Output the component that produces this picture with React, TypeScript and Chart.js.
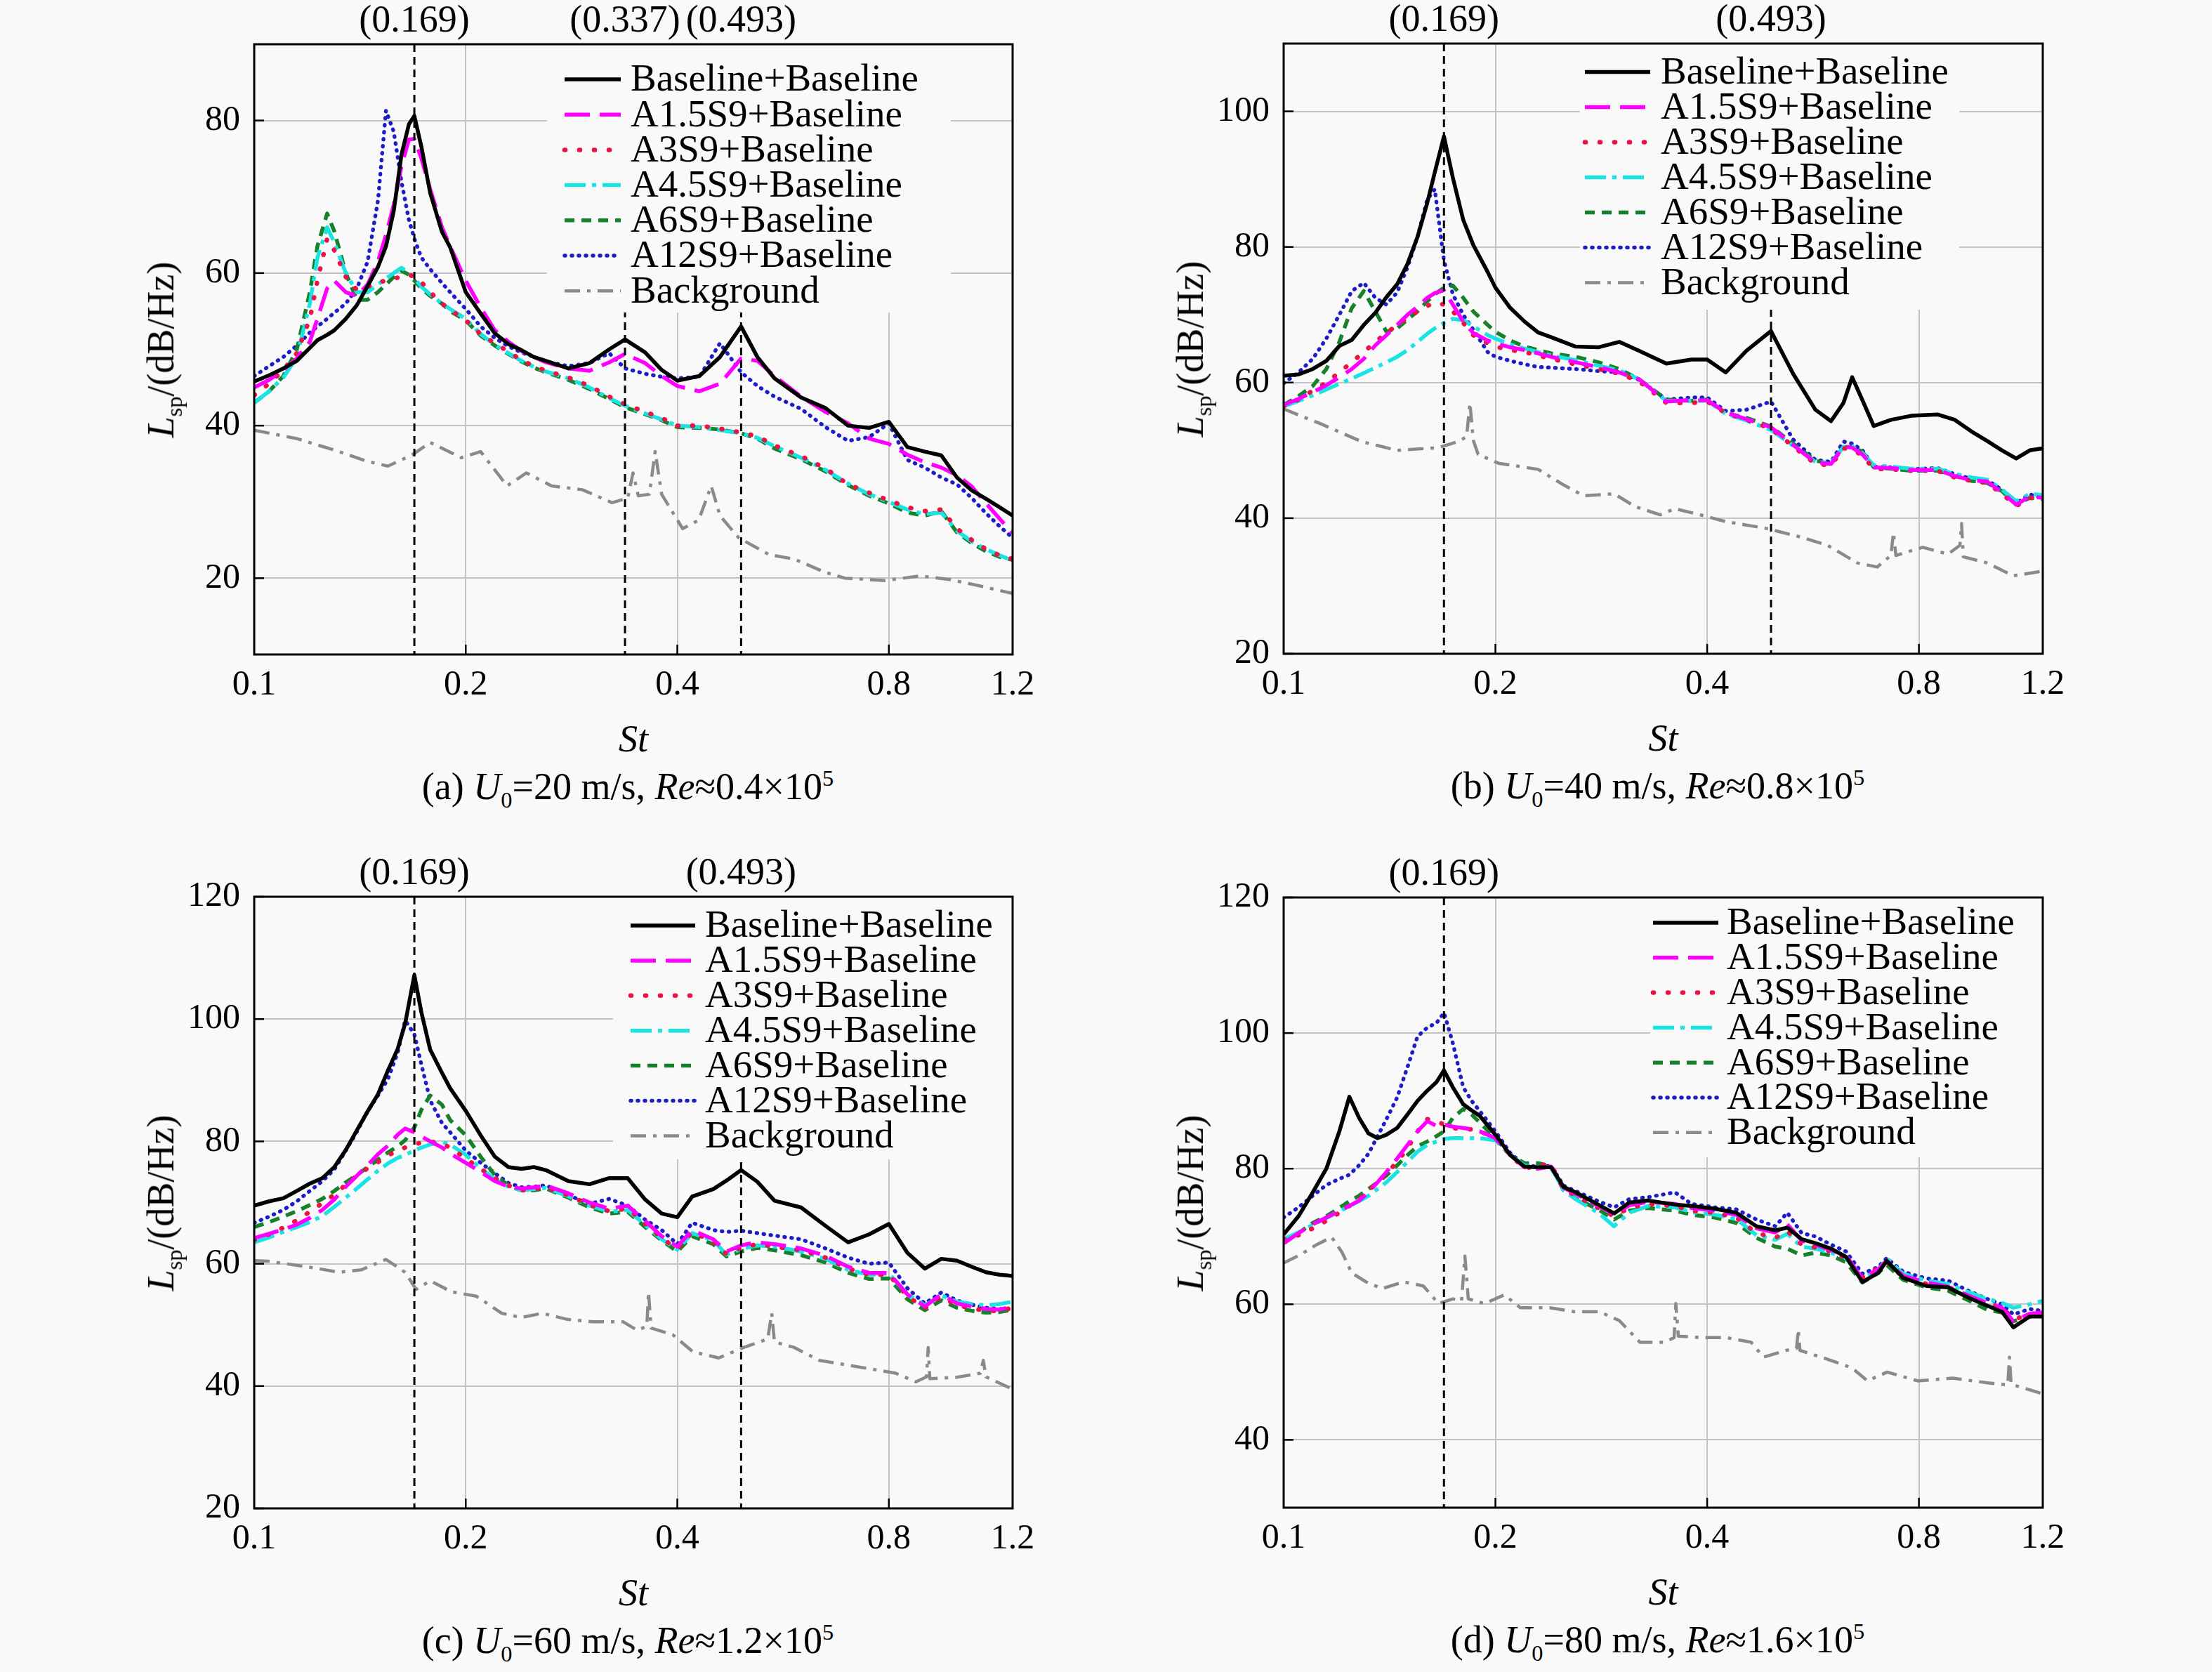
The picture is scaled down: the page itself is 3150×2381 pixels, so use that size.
import { useEffect, useRef } from 'react';
import { Chart, registerables } from 'chart.js';

Chart.register(...registerables);

const LABELS = [
  'Baseline+Baseline',
  'A1.5S9+Baseline',
  'A3S9+Baseline',
  'A4.5S9+Baseline',
  'A6S9+Baseline',
  'A12S9+Baseline',
  'Background',
];
const X_TICKS = [0.1, 0.2, 0.4, 0.8, 1.2];

// (a) U0 = 20 m/s
const ST_A = [0.1, 0.105, 0.11, 0.115, 0.12, 0.123, 0.127, 0.13, 0.135, 0.14, 0.145, 0.15, 0.154, 0.158, 0.162, 0.166, 0.169, 0.173, 0.178, 0.185, 0.19, 0.2, 0.21, 0.22, 0.23, 0.24, 0.25, 0.26, 0.28, 0.3, 0.32, 0.337, 0.36, 0.38, 0.4, 0.43, 0.46, 0.493, 0.52, 0.55, 0.6, 0.65, 0.7, 0.75, 0.8, 0.85, 0.9, 0.95, 1.0, 1.05, 1.1, 1.15, 1.2];
const BASE_A = [45.8, 46.6, 47.5, 48.5, 50.2, 51.2, 51.9, 52.5, 54.0, 55.8, 58.3, 60.8, 63.5, 68.2, 75.5, 79.5, 80.6, 76.5, 70.5, 65.4, 63.4, 57.5, 54.7, 52.1, 50.7, 49.9, 49.0, 48.5, 47.5, 48.2, 50.0, 51.3, 49.6, 47.3, 45.9, 46.5, 49.0, 53.0, 49.0, 46.2, 43.7, 42.3, 40.0, 39.7, 40.5, 37.2, 36.6, 36.1, 33.2, 31.5, 30.4, 29.3, 28.2];
const A15_A = [45.0, 46.0, 47.3, 48.8, 51.0, 54.0, 58.0, 59.0, 57.5, 57.0, 58.5, 61.5, 65.0, 69.0, 74.0, 77.5, 77.6, 75.0, 71.0, 66.0, 63.5, 59.0, 55.5, 52.5, 51.0, 49.8, 49.0, 48.3, 47.5, 47.2, 48.3, 49.4, 48.2, 46.5, 45.2, 44.5, 45.5, 48.8, 48.5, 46.5, 43.8, 41.8, 40.3, 38.3, 37.6, 36.2, 35.2, 34.5, 33.5, 32.0, 29.8, 27.8, 25.9];
const A3_A = [44.0, 45.5, 47.3, 49.5, 54.0, 59.0, 64.5, 63.0, 59.5, 57.8, 58.2, 58.8, 59.0, 59.3, 59.5, 59.8, 59.5, 58.8, 57.5, 56.0, 55.2, 53.8, 52.0, 50.8, 49.7, 48.6, 47.8, 47.2, 46.3, 45.2, 43.8, 42.8, 41.8, 41.0, 40.0, 40.0, 39.6, 39.1, 38.6, 37.4, 36.0, 34.4, 32.3, 31.2, 30.2, 29.3, 28.8, 29.0, 26.5, 25.0, 23.8, 23.0, 22.5];
const A45_A = [43.0, 44.5, 46.3, 49.0, 56.0, 62.0, 66.0, 64.0, 60.0, 57.5, 57.5, 58.5, 59.3, 60.0, 60.7, 60.0, 59.3, 58.2, 57.2, 56.0, 55.3, 54.0, 52.0, 50.6, 49.5, 48.5, 47.7, 47.1, 46.2, 45.0, 43.6, 42.6, 41.6, 40.8, 40.0, 39.8, 39.4, 39.0, 38.4, 37.3, 35.8, 34.2, 32.4, 31.0, 30.0, 29.0, 28.4, 28.6, 26.2, 24.8, 23.8, 23.0, 22.3];
const A6_A = [43.0, 44.5, 46.5, 50.0, 57.5, 63.5, 67.8, 65.5, 60.0, 56.5, 56.5, 57.5, 58.5, 59.5, 60.3, 59.8, 59.0, 58.0, 57.0, 56.0, 55.0, 53.8, 51.8, 50.5, 49.4, 48.4, 47.6, 47.0, 46.0, 44.8, 43.5, 42.4, 41.5, 40.7, 39.8, 39.7, 39.5, 39.0, 38.3, 37.0, 35.6, 34.0, 32.2, 30.8, 29.8, 28.6, 28.2, 28.8, 26.0, 24.6, 23.5, 22.8, 22.4];
const A12_A = [46.5, 47.8, 49.0, 50.5, 52.2, 53.0, 54.0, 54.8, 56.0, 58.0, 61.5, 69.5, 81.3, 78.5, 72.0, 67.0, 64.5, 62.0, 60.5, 58.7, 57.5, 55.3, 53.0, 51.5, 50.4, 49.6, 49.0, 48.4, 47.8, 48.2, 49.5, 47.5, 46.8, 46.4, 46.2, 46.4, 50.8, 47.0, 45.2, 43.8, 42.2, 39.8, 38.0, 38.5, 40.3, 35.5, 34.5, 33.2, 32.3, 30.5, 28.5, 26.8, 25.3];
const BG_ST_A = [0.1, 0.115, 0.13, 0.145, 0.155, 0.168, 0.178, 0.197, 0.21, 0.229, 0.244, 0.265, 0.293, 0.323, 0.34, 0.346, 0.352, 0.365, 0.372, 0.38, 0.407, 0.429, 0.447, 0.46, 0.489, 0.54, 0.587, 0.648, 0.693, 0.79, 0.888, 0.98, 1.064, 1.2];
const BG_A = [39.4, 38.3, 36.8, 35.3, 34.7, 36.2, 37.8, 35.8, 36.6, 32.1, 33.8, 32.1, 31.6, 29.9, 30.5, 33.8, 30.8, 31.0, 36.6, 31.0, 26.5, 27.6, 32.1, 28.2, 25.3, 23.1, 22.5, 20.8, 20.0, 19.7, 20.3, 19.8, 19.1, 18.0];

// (b) U0 = 40 m/s
const ST_B = [0.1, 0.105, 0.11, 0.115, 0.12, 0.125, 0.13, 0.135, 0.14, 0.145, 0.15, 0.155, 0.16, 0.164, 0.169, 0.174, 0.18, 0.186, 0.195, 0.2, 0.21, 0.22, 0.23, 0.24, 0.26, 0.28, 0.3, 0.32, 0.35, 0.38, 0.4, 0.425, 0.455, 0.493, 0.53, 0.57, 0.6, 0.625, 0.643, 0.665, 0.69, 0.73, 0.78, 0.85, 0.9, 0.95, 1.0, 1.05, 1.1, 1.15, 1.2];
const BASE_B = [61.0, 61.2, 62.0, 63.2, 65.4, 66.3, 68.5, 70.3, 72.6, 74.5, 77.5, 81.5, 86.5, 91.0, 96.3, 90.2, 84.0, 80.3, 76.3, 74.0, 71.0, 69.0, 67.4, 66.7, 65.3, 65.2, 66.0, 64.7, 62.8, 63.4, 63.4, 61.5, 64.7, 67.6, 61.3, 56.0, 54.3, 57.0, 60.8, 57.4, 53.6, 54.5, 55.1, 55.3, 54.5, 52.8, 51.4, 50.0, 48.8, 50.0, 50.3];
const A15_B = [56.7, 57.6, 58.6, 59.6, 60.8, 62.0, 63.5, 65.5, 67.0, 68.5, 70.0, 71.2, 72.5, 73.2, 73.6, 71.5, 69.0, 67.3, 66.2, 65.8, 65.2, 64.8, 64.3, 63.8, 63.0, 62.3, 61.5, 60.5, 57.2, 57.4, 57.4, 55.6, 54.6, 53.4, 50.8, 48.2, 48.0, 50.6, 50.4, 49.4, 47.5, 47.4, 47.1, 47.1, 46.2, 45.6, 45.4, 43.8, 42.0, 43.2, 43.0];
const A3_B = [56.5, 57.5, 58.8, 60.0, 61.5, 63.0, 64.5, 66.0, 67.3, 68.5, 69.5, 70.5, 71.3, 71.8, 71.5, 70.5, 68.8, 67.0, 65.8, 65.3, 64.8, 64.5, 64.0, 63.5, 62.7, 62.0, 61.3, 60.2, 57.0, 57.0, 57.2, 55.5, 54.5, 53.2, 50.6, 48.0, 47.8, 50.3, 50.2, 49.2, 47.3, 47.2, 47.0, 47.0, 46.0, 45.5, 45.2, 43.6, 41.8, 43.0, 42.8];
const A45_B = [56.5, 57.3, 58.1, 59.0, 59.8, 60.6, 61.4, 62.2, 63.0, 63.8, 64.8, 66.0, 67.2, 68.0, 68.8, 69.4, 69.2, 68.3, 67.0, 66.5, 65.6, 65.0, 64.5, 64.0, 63.3, 62.5, 61.8, 60.5, 57.3, 57.3, 57.3, 55.4, 54.4, 53.0, 50.7, 48.3, 48.2, 50.5, 50.6, 49.6, 47.8, 47.6, 47.3, 47.3, 46.5, 46.0, 45.7, 44.2, 42.5, 43.6, 43.4];
const A6_B = [56.7, 58.0, 59.5, 62.0, 66.0, 71.0, 73.5, 70.5, 67.5, 68.0, 69.3, 70.5, 72.0, 73.0, 74.0, 74.3, 72.5, 70.5, 68.5, 67.5, 66.2, 65.3, 64.8, 64.3, 63.8, 63.0, 62.0, 60.5, 57.5, 57.3, 57.5, 55.5, 54.8, 53.5, 51.0, 48.5, 48.0, 50.5, 50.5, 49.8, 47.5, 47.3, 47.0, 47.0, 46.2, 45.5, 45.2, 44.0, 42.0, 43.0, 42.8];
const A12_B = [59.9, 61.5, 63.5, 66.5, 70.0, 73.5, 74.7, 72.5, 71.5, 73.3, 77.0, 81.5, 87.0, 88.5, 78.0, 73.0, 70.0, 67.8, 64.5, 63.8, 63.2, 62.7, 62.3, 62.2, 62.0, 61.7, 61.5, 60.4, 57.5, 57.8, 57.8, 55.8, 56.0, 57.2, 51.6, 48.6, 48.3, 51.3, 51.0, 50.0, 47.6, 47.5, 47.2, 47.4, 46.5, 45.8, 45.6, 44.2, 42.2, 43.5, 43.0];
const BG_ST_B = [0.1, 0.113, 0.129, 0.145, 0.166, 0.177, 0.182, 0.184, 0.186, 0.189, 0.202, 0.23, 0.25, 0.267, 0.295, 0.316, 0.343, 0.36, 0.391, 0.425, 0.485, 0.544, 0.593, 0.654, 0.698, 0.73, 0.736, 0.742, 0.81, 0.88, 0.915, 0.92, 0.925, 1.0, 1.09, 1.2];
const BG_B = [56.1, 53.9, 51.3, 50.0, 50.4, 51.3, 52.0, 57.0, 51.5, 49.4, 48.1, 47.2, 44.9, 43.3, 43.6, 41.7, 40.5, 41.4, 40.5, 39.5, 38.5, 37.2, 36.0, 33.4, 32.8, 34.5, 37.9, 34.5, 35.7, 34.7, 36.0, 39.2, 34.3, 33.4, 31.5, 32.2];

// (c) U0 = 60 m/s
const ST_C = [0.1, 0.105, 0.11, 0.115, 0.12, 0.125, 0.13, 0.135, 0.14, 0.145, 0.15, 0.155, 0.16, 0.164, 0.169, 0.173, 0.178, 0.185, 0.19, 0.2, 0.21, 0.22, 0.23, 0.24, 0.25, 0.26, 0.28, 0.3, 0.32, 0.34, 0.36, 0.38, 0.4, 0.42, 0.45, 0.47, 0.493, 0.52, 0.55, 0.6, 0.65, 0.7, 0.75, 0.8, 0.85, 0.9, 0.95, 1.0, 1.05, 1.1, 1.15, 1.2];
const BASE_C = [69.5, 70.2, 70.7, 71.9, 73.1, 74.0, 75.8, 78.6, 81.8, 84.9, 87.7, 91.6, 95.1, 99.3, 107.2, 101.0, 95.0, 91.2, 88.7, 85.0, 81.0, 77.5, 75.8, 75.5, 75.8, 75.3, 73.5, 73.0, 74.0, 74.0, 70.5, 68.2, 67.6, 71.0, 72.2, 73.6, 75.3, 73.4, 70.3, 69.2, 66.2, 63.5, 64.8, 66.5, 61.8, 59.2, 60.8, 60.5, 59.5, 58.6, 58.2, 58.0];
const A15_C = [64.2, 64.9, 65.6, 66.4, 67.5, 68.8, 70.5, 72.6, 74.4, 76.1, 77.9, 79.3, 81.1, 82.1, 81.5, 80.8, 80.0, 79.0, 78.0, 76.5, 75.0, 73.5, 72.6, 72.3, 72.5, 72.8, 71.5, 70.0, 69.0, 69.5, 67.0, 64.5, 62.8, 65.5, 64.0, 62.0, 63.0, 63.5, 63.2, 62.5, 61.3, 59.5, 58.5, 58.5, 55.0, 53.0, 55.0, 53.5, 53.0, 52.6, 52.5, 53.0];
const A3_C = [63.9, 64.8, 65.9, 67.1, 68.5, 69.9, 71.3, 72.9, 74.4, 75.6, 76.6, 77.7, 78.5, 79.0, 79.5, 79.8, 80.0, 79.6, 79.0, 77.2, 75.5, 74.0, 72.8, 72.0, 72.2, 72.5, 71.2, 69.6, 68.6, 69.0, 66.6, 64.2, 62.4, 65.2, 63.6, 61.6, 62.6, 63.2, 62.8, 62.2, 61.0, 59.2, 58.2, 58.2, 54.7, 52.7, 54.6, 53.2, 52.7, 52.3, 52.3, 52.8];
const A45_C = [63.5, 64.3, 65.2, 66.0, 66.8, 67.8, 69.3, 70.8, 72.3, 73.8, 75.2, 76.4, 77.3, 77.8, 78.5, 79.0, 79.5, 79.9, 79.5, 77.8, 75.6, 73.8, 72.6, 72.0, 72.2, 72.4, 71.0, 69.5, 68.5, 68.8, 66.3, 64.0, 62.3, 65.0, 63.8, 61.5, 62.4, 63.0, 62.8, 62.0, 60.8, 59.0, 58.2, 58.4, 55.0, 53.2, 54.8, 53.8, 53.4, 53.2, 53.4, 53.8];
const A6_C = [66.0, 66.8, 67.7, 68.6, 69.6, 70.6, 71.9, 73.3, 74.5, 75.8, 77.0, 78.2, 79.2, 80.2, 82.3, 85.2, 87.5, 86.0, 83.5, 81.0, 77.5, 74.5, 72.8, 72.0, 72.0, 72.3, 70.8, 69.2, 68.2, 68.5, 66.0, 63.8, 62.0, 64.5, 63.2, 61.2, 62.0, 62.6, 62.2, 61.4, 60.2, 58.5, 57.5, 57.6, 54.2, 52.4, 54.0, 52.8, 52.3, 52.0, 52.1, 52.5];
const A12_C = [66.7, 67.7, 68.8, 70.2, 71.9, 73.5, 75.4, 78.5, 81.6, 84.9, 87.5, 90.2, 94.5, 99.8, 97.5, 92.5, 86.7, 83.0, 81.5, 78.5, 76.5, 74.8, 73.2, 72.5, 72.6, 72.8, 71.2, 69.8, 70.6, 69.5, 67.2, 65.5, 63.2, 66.7, 65.5, 65.2, 65.4, 65.0, 64.6, 64.0, 62.5, 61.0, 60.0, 60.2, 56.0, 53.5, 55.3, 54.0, 53.3, 52.8, 52.6, 52.5];
const BG_ST_C = [0.1, 0.105, 0.122, 0.132, 0.142, 0.154, 0.164, 0.17, 0.178, 0.191, 0.207, 0.225, 0.24, 0.257, 0.279, 0.303, 0.335, 0.351, 0.362, 0.364, 0.367, 0.394, 0.421, 0.458, 0.497, 0.538, 0.545, 0.55, 0.587, 0.637, 0.693, 0.753, 0.818, 0.874, 0.905, 0.91, 0.915, 0.995, 1.08, 1.09, 1.1, 1.2];
const BG_C = [60.5, 60.4, 59.3, 58.6, 59.0, 60.7, 58.6, 55.8, 57.2, 55.4, 54.7, 51.9, 51.2, 51.9, 50.9, 50.5, 50.5, 49.1, 49.8, 55.4, 49.5, 48.4, 45.6, 44.6, 46.3, 47.7, 51.9, 47.2, 46.3, 44.2, 43.5, 42.8, 42.1, 40.7, 41.5, 46.3, 41.2, 41.4, 42.1, 44.2, 41.5, 39.5];

// (d) U0 = 80 m/s
const ST_D = [0.1, 0.105, 0.11, 0.115, 0.12, 0.124, 0.128, 0.132, 0.136, 0.14, 0.145, 0.15, 0.155, 0.16, 0.165, 0.169, 0.174, 0.18, 0.185, 0.19, 0.2, 0.21, 0.22, 0.23, 0.24, 0.25, 0.26, 0.28, 0.295, 0.31, 0.33, 0.36, 0.38, 0.41, 0.44, 0.47, 0.5, 0.52, 0.545, 0.57, 0.6, 0.63, 0.665, 0.7, 0.72, 0.76, 0.82, 0.88, 0.94, 1.0, 1.05, 1.09, 1.15, 1.2];
const BASE_D = [70.3, 73.0, 76.5, 80.0, 85.5, 90.6, 87.5, 85.2, 84.5, 85.0, 86.0, 88.0, 90.0, 91.5, 92.8, 94.5, 92.0, 89.5, 88.6, 87.8, 85.0, 82.0, 80.3, 80.2, 80.2, 77.3, 76.5, 74.7, 73.4, 75.0, 75.3, 74.7, 74.5, 74.1, 73.5, 71.5, 70.9, 71.3, 69.6, 69.0, 68.2, 67.0, 63.3, 64.6, 66.4, 63.9, 62.7, 62.5, 61.0, 59.8, 58.9, 56.6, 58.2, 58.2];
const A15_D = [69.0, 70.5, 71.8, 72.8, 73.8, 74.5, 75.3, 76.5, 78.0, 79.5, 81.5, 83.5, 85.5, 87.0, 86.3, 86.5, 86.2, 86.0, 85.8, 85.5, 84.5, 82.0, 80.2, 80.0, 80.3, 77.2, 76.3, 74.5, 73.3, 74.6, 75.1, 74.8, 74.2, 73.8, 73.2, 71.2, 70.6, 71.8, 69.4, 68.8, 68.0, 67.2, 63.8, 65.2, 66.4, 64.2, 63.2, 62.6, 61.3, 60.2, 59.5, 57.5, 58.6, 58.8];
const A3_D = [69.6, 70.2, 71.2, 72.3, 73.5, 74.5, 75.5, 76.8, 78.0, 79.3, 81.0, 83.0, 85.5, 87.3, 87.0, 86.5, 86.0, 85.8, 85.8, 85.5, 84.5, 82.0, 80.0, 80.5, 80.6, 77.0, 76.0, 74.2, 73.0, 74.2, 74.8, 74.5, 73.8, 73.5, 72.8, 70.5, 69.8, 70.8, 68.8, 68.4, 67.8, 66.8, 64.0, 65.4, 66.2, 64.0, 63.0, 62.4, 61.2, 60.0, 59.6, 57.8, 58.4, 59.0];
const A45_D = [69.6, 70.6, 71.7, 72.7, 73.7, 74.5, 75.2, 76.0, 77.0, 78.0, 79.5, 81.0, 82.5, 83.5, 84.0, 84.4, 84.5, 84.5, 84.5, 84.5, 84.2, 82.0, 80.5, 80.2, 80.2, 76.8, 75.5, 73.5, 71.5, 73.5, 74.5, 74.3, 73.6, 73.2, 72.6, 70.2, 69.5, 70.4, 68.5, 68.2, 67.6, 66.8, 63.8, 65.0, 66.8, 64.5, 63.5, 63.0, 61.8, 60.8, 60.2, 59.5, 60.0, 60.5];
const A6_D = [69.0, 70.5, 72.0, 73.0, 74.2, 75.2, 76.0, 77.0, 78.0, 79.0, 80.5, 82.0, 83.3, 84.0, 84.8, 85.5, 87.5, 88.8, 88.0, 86.8, 84.5, 82.0, 80.8, 80.8, 80.4, 76.8, 75.6, 74.0, 72.5, 73.8, 74.2, 73.8, 73.2, 72.8, 72.0, 69.8, 68.5, 68.2, 67.2, 67.6, 67.2, 66.2, 63.2, 64.6, 65.8, 63.6, 62.5, 62.0, 60.6, 59.2, 58.8, 57.5, 58.2, 58.5];
const A12_D = [72.8, 74.3, 76.0, 77.6, 78.5, 79.1, 80.5, 82.2, 84.8, 87.3, 90.5, 95.0, 99.5, 100.8, 101.5, 103.0, 98.5, 92.0, 90.0, 88.5, 85.5, 82.3, 80.5, 80.3, 80.4, 77.5, 76.7, 75.2, 74.3, 75.5, 75.8, 76.5, 74.8, 74.3, 74.0, 72.5, 71.5, 73.5, 70.5, 70.0, 68.8, 67.8, 64.5, 65.5, 66.8, 64.8, 63.8, 63.5, 62.0, 60.8, 60.0, 58.5, 59.3, 59.0];
const BG_ST_D = [0.1, 0.106, 0.111, 0.117, 0.121, 0.125, 0.131, 0.138, 0.148, 0.158, 0.166, 0.174, 0.179, 0.181, 0.183, 0.193, 0.206, 0.217, 0.239, 0.259, 0.281, 0.3, 0.321, 0.348, 0.359, 0.361, 0.364, 0.391, 0.425, 0.462, 0.481, 0.518, 0.536, 0.539, 0.542, 0.593, 0.643, 0.676, 0.721, 0.797, 0.894, 1.003, 1.07, 1.076, 1.082, 1.2];
const BG_D = [66.1, 67.4, 68.7, 69.9, 67.7, 64.6, 63.3, 62.3, 63.3, 62.7, 60.1, 60.8, 60.5, 67.1, 60.8, 60.1, 61.4, 59.5, 59.5, 58.9, 58.9, 57.6, 54.4, 54.4, 55.1, 60.1, 55.3, 55.1, 55.1, 54.4, 52.2, 53.2, 53.5, 56.3, 53.2, 51.9, 50.6, 48.7, 50.0, 48.7, 49.1, 48.4, 48.1, 52.2, 48.2, 46.8];

const SERIF = '"Liberation Serif", "Times New Roman", serif';
const PAGE_BG = '#f9f9f9';
const GRID = '#c4c4c4';

// line look for each legend entry
const STYLES = [
  { color: '#000000', width: 5.5, dash: [], cap: 'butt' },
  { color: '#ff00ff', width: 5.5, dash: [36, 14], cap: 'butt' },
  { color: '#ee1144', width: 6.5, dash: [1, 20], cap: 'round' },
  { color: '#19e3e3', width: 5.5, dash: [30, 9, 6, 9], cap: 'butt' },
  { color: '#17802a', width: 5.5, dash: [14, 10], cap: 'butt' },
  { color: '#1c1cc8', width: 5.5, dash: [1, 9], cap: 'round' },
  { color: '#8a8a8a', width: 4.5, dash: [22, 10, 5, 10], cap: 'butt' },
];

const AX_W = 160;
const AX_H = 80;
const PAD_T = 62;
const PAD_R = 40;

const PANELS = [
  {
    tag: 'a', speed: '20', re: '0.4',
    plot: { left: 362, top: 63, right: 1442, bottom: 932 },
    yMin: 10, yMax: 90, yTicks: [20, 40, 60, 80],
    marks: [0.169, 0.337, 0.493],
    st: ST_A, series: [BASE_A, A15_A, A3_A, A45_A, A6_A, A12_A], bgSt: BG_ST_A, bg: BG_A,
    legend: { boxL: 417, boxR: 88, boxB: 382, sx0: 442, sx1: 522, tx: 536, row0: 50, gap: 50.2 },
  },
  {
    tag: 'b', speed: '40', re: '0.8',
    plot: { left: 1828, top: 62, right: 2909, bottom: 931 },
    yMin: 20, yMax: 110, yTicks: [20, 40, 60, 80, 100],
    marks: [0.169, 0.493],
    st: ST_B, series: [BASE_B, A15_B, A3_B, A45_B, A6_B, A12_B], bgSt: BG_ST_B, bg: BG_B,
    legend: { boxL: 422, boxR: 119, boxB: 379, sx0: 429, sx1: 522, tx: 537, row0: 40.5, gap: 50 },
  },
  {
    tag: 'c', speed: '60', re: '1.2',
    plot: { left: 362, top: 1277, right: 1442, bottom: 2148 },
    yMin: 20, yMax: 120, yTicks: [20, 40, 60, 80, 100, 120],
    marks: [0.169, 0.493],
    st: ST_C, series: [BASE_C, A15_C, A3_C, A45_C, A6_C, A12_C], bgSt: BG_ST_C, bg: BG_C,
    legend: { boxL: 511, boxR: 0, boxB: 374, sx0: 536, sx1: 628, tx: 642, row0: 41, gap: 49.9 },
  },
  {
    tag: 'd', speed: '80', re: '1.6',
    plot: { left: 1828, top: 1278, right: 2909, bottom: 2147 },
    yMin: 30, yMax: 120, yTicks: [40, 60, 80, 100, 120],
    marks: [0.169],
    st: ST_D, series: [BASE_D, A15_D, A3_D, A45_D, A6_D, A12_D], bgSt: BG_ST_D, bg: BG_D,
    legend: { boxL: 522, boxR: 0, boxB: 370, sx0: 526, sx1: 619, tx: 631, row0: 36, gap: 49.8 },
  },
];

function Panel({ cfg }: { cfg: any }) {
  const ref = useRef<HTMLCanvasElement>(null);
  const { plot } = cfg;
  const w = plot.right - plot.left + AX_W + PAD_R;
  const h = plot.bottom - plot.top + PAD_T + AX_H;

  useEffect(() => {
    const datasets = LABELS.map((label, i) => {
      const xs = i === 6 ? cfg.bgSt : cfg.st;
      const ys = i === 6 ? cfg.bg : cfg.series[i];
      const s = STYLES[i];
      return {
        label,
        data: xs.map((x: number, k: number) => ({ x, y: ys[k] })),
        borderColor: s.color,
        borderWidth: s.width,
        borderDash: s.dash,
        borderCapStyle: s.cap,
        borderJoinStyle: 'round',
        pointRadius: 0,
        tension: 0,
        fill: false,
      };
    });

    const lg = cfg.legend;
    const deco = {
      id: 'deco',
      afterDatasetsDraw(chart: any) {
        const { ctx, chartArea: a, scales } = chart;
        ctx.save();

        // reference St lines and their labels
        ctx.strokeStyle = '#000';
        ctx.lineWidth = 3;
        ctx.setLineDash([11, 7]);
        cfg.marks.forEach((v: number) => {
          const x = scales.x.getPixelForValue(v);
          ctx.beginPath();
          ctx.moveTo(x, a.top);
          ctx.lineTo(x, a.bottom);
          ctx.stroke();
        });
        ctx.setLineDash([]);
        ctx.fillStyle = '#000';
        ctx.font = `54px ${SERIF}`;
        ctx.textAlign = 'center';
        ctx.textBaseline = 'middle';
        cfg.marks.forEach((v: number) => {
          ctx.fillText(`(${v})`, scales.x.getPixelForValue(v), a.top - 32);
        });

        // legend
        const bx = a.left + lg.boxL;
        ctx.fillStyle = PAGE_BG;
        ctx.fillRect(bx, a.top, a.right - lg.boxR - bx, lg.boxB);
        ctx.font = `55px ${SERIF}`;
        ctx.textAlign = 'left';
        LABELS.forEach((label, i) => {
          const s = STYLES[i];
          const y = a.top + lg.row0 + i * lg.gap;
          ctx.strokeStyle = s.color;
          ctx.lineWidth = s.width;
          ctx.lineCap = s.cap;
          ctx.setLineDash(s.dash);
          ctx.beginPath();
          ctx.moveTo(a.left + lg.sx0, y);
          ctx.lineTo(a.left + lg.sx1, y);
          ctx.stroke();
          ctx.setLineDash([]);
          ctx.fillStyle = '#000';
          ctx.fillText(label, a.left + lg.tx, y + 2);
        });

        // inward tick marks
        ctx.strokeStyle = '#000';
        ctx.lineWidth = 2.5;
        ctx.lineCap = 'butt';
        cfg.yTicks.forEach((v: number) => {
          const y = scales.y.getPixelForValue(v);
          ctx.beginPath();
          ctx.moveTo(a.left, y);
          ctx.lineTo(a.left + 14, y);
          ctx.stroke();
        });
        X_TICKS.slice(1, -1).forEach((v) => {
          const x = scales.x.getPixelForValue(v);
          ctx.beginPath();
          ctx.moveTo(x, a.bottom);
          ctx.lineTo(x, a.bottom - 14);
          ctx.stroke();
        });

        // frame
        ctx.lineWidth = 3;
        ctx.strokeRect(a.left, a.top, a.right - a.left, a.bottom - a.top);
        ctx.restore();
      },
    };

    const tickFont = { family: SERIF, size: 50 };
    const chart = new Chart(ref.current as HTMLCanvasElement, {
      type: 'line',
      data: { datasets } as any,
      options: {
        animation: false,
        responsive: false,
        devicePixelRatio: 1,
        layout: { padding: { left: 0, top: PAD_T, right: PAD_R, bottom: 0 } },
        plugins: { legend: { display: false }, tooltip: { enabled: false } },
        scales: {
          x: {
            type: 'logarithmic',
            min: 0.1,
            max: 1.2,
            afterBuildTicks: (ax: any) => {
              ax.ticks = X_TICKS.map((v) => ({ value: v }));
            },
            afterFit: (ax: any) => {
              ax.height = AX_H;
              ax.paddingLeft = 0;
              ax.paddingRight = 0;
            },
            ticks: {
              callback: (v: any) => String(v),
              font: tickFont,
              color: '#000',
              padding: 14,
              maxRotation: 0,
              autoSkip: false,
            },
            grid: { color: GRID, lineWidth: 2, drawTicks: false },
            border: { display: false },
          },
          y: {
            type: 'linear',
            min: cfg.yMin,
            max: cfg.yMax,
            afterBuildTicks: (ax: any) => {
              ax.ticks = cfg.yTicks.map((v: number) => ({ value: v }));
            },
            afterFit: (ax: any) => {
              ax.width = AX_W;
              ax.paddingTop = 0;
              ax.paddingBottom = 0;
            },
            ticks: { font: tickFont, color: '#000', padding: 20 },
            grid: { color: GRID, lineWidth: 2, drawTicks: false },
            border: { display: false },
          },
        },
      } as any,
      plugins: [deco],
    });
    return () => chart.destroy();
  }, [cfg]);

  const cx = (plot.left + plot.right) / 2;
  const cy = (plot.top + plot.bottom) / 2;
  const text: any = {
    position: 'absolute',
    transform: 'translate(-50%, -50%)',
    fontFamily: SERIF,
    fontSize: 54,
    lineHeight: 1,
    whiteSpace: 'nowrap',
    color: '#000',
  };
  const small = { fontSize: '0.6em' };

  return (
    <>
      <canvas
        ref={ref}
        width={w}
        height={h}
        style={{ position: 'absolute', left: plot.left - AX_W, top: plot.top - PAD_T, width: w, height: h }}
      />
      <div style={{ ...text, left: plot.left - 129, top: cy, transform: 'translate(-50%, -50%) rotate(-90deg)' }}>
        <i>L</i>
        <sub style={small}>sp</sub>/(dB/Hz)
      </div>
      <div style={{ ...text, left: cx, top: plot.bottom + 120 }}>
        <i>St</i>
      </div>
      <div style={{ ...text, left: cx - 8, top: plot.bottom + 192 }}>
        ({cfg.tag}) <i>U</i>
        <sub style={small}>0</sub>={cfg.speed} m/s, <i>Re</i>≈{cfg.re}×10
        <sup style={small}>5</sup>
      </div>
    </>
  );
}

export default function App() {
  return (
    <div style={{ position: 'absolute', left: 0, top: 0, width: 3150, height: 2381, background: PAGE_BG, overflow: 'hidden' }}>
      {PANELS.map((p) => (
        <Panel key={p.tag} cfg={p} />
      ))}
    </div>
  );
}
